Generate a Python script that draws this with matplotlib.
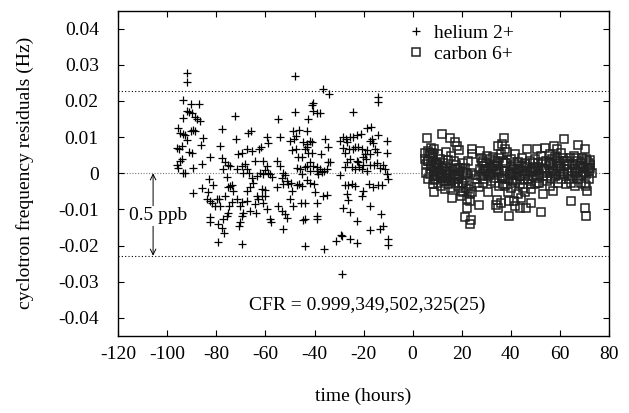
import matplotlib
matplotlib.use('Agg')
import matplotlib.pyplot as plt

plt.rcParams['font.family'] = ['Liberation Serif', 'DejaVu Serif']
plt.rcParams['axes.unicode_minus'] = False

# helium 2+ residuals (time in hours, residual in Hz)
he_time = [
    -91.8, -91.8, -93.7, -90.2, -86.9, -92.1, -91.0, -89.9, -88.6, -88.0,
    -86.7, -93.7, -95.6, -94.8, -93.5, -92.1, -96.2, -95.1, -94.1, -95.9,
    -95.5, -93.5, -92.8, -94.8, -91.0, -90.1, -90.5, -89.4, -88.7, -85.6,
    -86.4, -89.7, -86.0, -89.7, -92.9, -94.1,
    -77.8, -72.4, -72.0, -78.5, -82.6, -86.0, -82.9, -81.2, -83.3, -83.9,
    -82.6, -81.9, -80.6, -79.9, -78.8, -78.5, -77.2, -77.8, -76.5, -75.1,
    -74.4, -75.8, -74.4, -75.1, -73.8, -73.1, -76.5, -73.8, -74.7, -75.1,
    -75.8, -77.2, -77.8, -76.9, -79.2, -82.6, -82.6, -79.2, -69.7, -70.4,
    -70.6, -69.7, -70.4, -69.7, -71.7, -67.6, -69.0, -66.3, -63.8, -64.2,
    -62.9, -61.5, -60.2, -60.8, -59.5, -58.1, -57.9, -54.7, -53.4, -52.0,
    -51.3, -52.7, -71.0, -69.7, -67.6, -65.6, -62.5, -61.9, -59.5, -58.8,
    -67.0, -66.0, -71.7, -69.7, -68.3, -67.4, -69.0, -66.6, -65.6, -64.9,
    -66.3, -67.6, -63.6, -62.2, -61.1, -59.5, -60.2, -58.8, -58.1, -57.5,
    -60.8, -64.2, -61.5, -60.2, -63.6, -54.7, -54.1, -55.1, -54.1, -52.7,
    -52.0, -53.4, -51.3, -50.6, -49.7, -52.7, -55.4, -49.3, -50.0, -48.6,
    -47.3, -46.2, -45.2, -45.6, -43.9, -44.5, -43.9, -43.9, -47.9, -47.9,
    -48.6, -47.5, -46.2, -43.2, -44.8, -48.3, -50.0, -49.3, -47.5, -46.6,
    -45.2, -43.9, -43.2, -41.8, -41.1, -42.5, -41.1, -42.9, -47.3, -45.9,
    -45.2, -43.9, -43.2, -41.8, -41.8, -40.5, -39.1, -38.4, -37.1, -37.7,
    -36.1, -35.0, -34.4, -33.7, -35.7, -34.4, -37.3, -39.1, -40.2, -41.8,
    -42.9, -39.8, -38.8, -36.7, -34.8, -39.1, -39.1, -36.1, -40.5, -41.1,
    -40.7, -39.1, -37.7, -42.5, -36.7, -33.9, -28.9, -31.2, -28.9, -25.5,
    -22.5, -14.0, -14.0, -24.4,
    -28.2, -27.2, -26.9, -25.5, -24.4, -22.8, -21.2, -18.7, -17.1, -14.0,
    -10.3, -10.3, -29.6, -28.2, -27.6, -25.8, -24.4, -23.5, -22.1, -20.8,
    -19.4, -20.1, -18.7, -17.4, -16.7, -16.0, -15.3, -14.6, -17.4, -19.0,
    -20.4, -22.1, -22.8, -25.5, -26.9, -27.6, -24.8, -23.5, -21.7, -20.8,
    -18.7, -17.4, -15.7, -14.6, -13.3, -11.9, -11.2, -10.6, -9.9, -29.6,
    -27.6, -26.2, -24.8, -23.5, -20.1, -20.8, -17.6, -16.0, -14.0, -12.6,
    -26.9, -26.2, -28.2, -25.5, -17.4, -13.0, -11.9, -13.3, -17.4, -22.5,
    -9.9, -9.9, -29.3,
]
he_resid = [
    0.0278, 0.0253, 0.0204, 0.0193, 0.0193, 0.0172, 0.0169, 0.0167, 0.0156, 0.0149,
    0.0146, 0.0154, 0.0126, 0.0112, 0.0108, 0.0092, 0.0071, 0.0066, 0.0075, 0.0022,
    0.0016, 0.0002, 0.0001, 0.0034, 0.0059, 0.0057, 0.0117, 0.0119, 0.0117, 0.0098,
    0.0077, 0.0016, 0.0025, -0.0055, 0.0105, 0.0039,
    0.0123, 0.0158, 0.0094, 0.0075, 0.0046, -0.0042, -0.0015, -0.0033, -0.0053, -0.0070,
    -0.0076, -0.0083, -0.0090, -0.0070, -0.0072, -0.0090, 0.0011, 0.0041, 0.0030, 0.0022,
    0.0020, -0.0009, -0.0035, -0.0039, -0.0033, -0.0049, -0.0064, -0.0079, -0.0090, -0.0109,
    -0.0118, -0.0127, -0.0150, -0.0164, -0.0141, -0.0136, -0.0122, -0.0191, -0.0196, -0.0136,
    -0.0145, -0.0118, -0.0090, -0.0079, -0.0072, -0.0076, -0.0109, -0.0104, -0.0110, -0.0085,
    -0.0072, -0.0063, -0.0063, -0.0081, -0.0099, -0.0127, -0.0136, -0.0090, -0.0104, -0.0113,
    -0.0125, -0.0153, 0.0053, 0.0057, 0.0066, 0.0062, 0.0066, 0.0074, 0.0101, 0.0085,
    0.0112, 0.0117, 0.0011, 0.0020, 0.0025, 0.0013, 0.0002, 0.0000, -0.0012, -0.0026,
    -0.0039, -0.0049, -0.0007, 0.0002, -0.0003, 0.0020, 0.0009, 0.0002, -0.0003, -0.0009,
    0.0034, 0.0034, -0.0044, -0.0046, -0.0063, 0.0149, 0.0101, 0.0034, 0.0020, 0.0002,
    -0.0005, -0.0012, -0.0021, -0.0030, -0.0028, -0.0030, -0.0039, -0.0049, -0.0070, -0.0090,
    -0.0033, -0.0030, -0.0035, -0.0083, -0.0083, -0.0129, -0.0127, -0.0200, 0.0269, 0.0169,
    0.0117, 0.0103, 0.0121, 0.0117, 0.0086, 0.0094, 0.0089, 0.0064, 0.0068, 0.0046,
    0.0046, 0.0066, 0.0074, 0.0089, 0.0086, 0.0055, 0.0057, 0.0080, 0.0016, 0.0011,
    -0.0003, 0.0018, 0.0020, 0.0007, 0.0030, 0.0020, 0.0018, -0.0003, 0.0004, 0.0011,
    0.0007, 0.0013, 0.0030, 0.0030, 0.0094, 0.0074, 0.0053, 0.0007, -0.0030, -0.0026,
    -0.0018, -0.0053, -0.0081, -0.0063, -0.0061, -0.0118, -0.0127, -0.0208, 0.0195, 0.0190,
    0.0172, 0.0167, 0.0166, 0.0149, 0.0232, 0.0218, -0.0279, -0.0187, -0.0173, -0.0182,
    -0.0193, 0.0212, 0.0197, 0.0170,
    0.0101, 0.0096, 0.0086, 0.0101, 0.0101, 0.0105, 0.0108, 0.0126, 0.0129, 0.0105,
    0.0089, 0.0055, 0.0089, 0.0071, 0.0057, 0.0068, 0.0066, 0.0074, 0.0074, 0.0066,
    0.0053, 0.0046, 0.0064, 0.0089, 0.0094, 0.0085, 0.0068, 0.0059, 0.0053, 0.0039,
    0.0022, 0.0030, 0.0034, 0.0039, 0.0030, 0.0018, 0.0018, 0.0011, 0.0018, 0.0011,
    0.0007, 0.0022, 0.0022, 0.0028, 0.0016, 0.0022, 0.0011, -0.0003, -0.0017, -0.0005,
    -0.0033, -0.0033, -0.0030, -0.0035, -0.0049, -0.0063, -0.0030, -0.0039, -0.0033, -0.0033,
    -0.0058, -0.0074, -0.0095, -0.0107, -0.0090, -0.0113, -0.0145, -0.0153, -0.0156, -0.0131,
    -0.0182, -0.0199, -0.0171,
]

# carbon 6+ residuals (time in hours, residual in Hz)
c_time = [
    5.8, 12.1, 15.1, 17.1, 18.2, 19.1, 37.2, 61.9, 67.6, 70.1,
    24.3, 24.2, 27.3, 34.8, 36.4, 37.5, 38.6, 46.7, 50.8, 53.8,
    57.6, 58.9, 60.6, 58.1, 55.8, 70.8, 71.7, 6.2, 6.9, 7.9,
    8.3, 6.2, 9.6, 13.7, 15.7, 14.4, 16.8, 17.8, 20.5, 22.5,
    21.2, 28.7, 27.7, 30.0, 31.4, 32.7, 33.7, 35.4, 36.8, 38.2,
    41.8, 42.9, 44.3, 45.9, 47.7, 49.0, 51.1, 52.7, 54.5, 56.2,
    59.9, 61.9, 64.0, 65.3, 67.1, 68.5, 69.4, 71.4, 72.5, 73.1,
    7.6, 9.6, 11.0, 12.3, 13.7, 15.1, 16.4, 17.8, 19.1, 20.5,
    21.9, 23.9, 25.9, 27.3, 28.7, 30.0, 31.4, 32.7, 34.1, 35.4,
    36.8, 38.2, 39.5, 40.9, 42.2, 43.6, 44.9, 46.3, 47.7, 49.0,
    50.4, 51.7, 53.1, 54.5, 55.8, 57.2, 58.5, 59.9, 61.9, 63.3,
    64.9, 67.1, 68.7, 70.8, 72.1,
    6.2, 8.7, 10.3, 11.7, 13.0, 14.4, 15.7, 17.1, 18.5, 19.6,
    22.5, 23.2, 25.3, 27.0, 28.7, 30.7, 32.1, 33.7, 35.4, 36.8,
    38.8, 40.2, 41.6, 43.6, 44.9, 45.9, 48.4, 49.7, 51.7, 53.1,
    55.8, 57.2, 59.2, 60.6, 62.6, 64.7, 66.0, 68.5, 70.1, 71.2,
    8.7, 16.0, 22.3, 23.2, 34.5, 35.9, 39.1, 41.3, 42.9, 44.0,
    48.4, 52.2, 43.6, 46.3, 41.6, 34.8, 34.1, 22.3, 27.0, 39.1,
    21.5, 23.9, 23.2, 64.4, 70.4, 70.8,
    8.9, 11.7, 18.5, 29.3, 37.5, 47.0, 56.5, 67.4, 5.6, 5.6,
    10.3, 33.4, 40.2, 49.7, 59.2, 66.0,
    7.1, 8.4, 6.4, 7.7, 9.8, 11.8, 13.8, 11.1, 9.1, 13.2,
    15.2, 17.2, 19.3, 18.6, 20.6, 22.0, 28.1, 29.5, 30.8, 32.9,
    34.2, 36.3, 37.6, 39.7, 41.0, 42.4, 44.4, 45.8, 47.1, 49.2,
    50.5, 52.6, 54.6, 56.0, 57.3, 58.7, 60.0, 61.4, 62.8, 64.8,
    66.8, 68.2, 69.5, 70.9, 72.3,
    5.0, 5.2, 7.3, 8.9, 10.3, 11.0, 12.3, 13.0, 7.6, 8.9,
    6.9, 8.3, 10.0, 11.4, 12.8, 14.1, 15.5, 16.4, 17.4, 18.7,
    20.1, 21.2, 19.6, 20.5, 21.9, 24.2, 26.3, 28.0, 29.1, 30.4,
    31.8, 33.1, 34.5, 35.9, 37.2, 37.8, 38.8, 39.9, 40.5, 41.6,
    42.6, 43.2, 44.5, 45.4, 46.7, 48.1, 48.6, 50.0, 50.8, 51.3,
    52.4, 53.5, 54.9, 55.4, 56.8, 57.9, 58.9, 60.3, 61.3, 61.7,
    63.0, 63.6, 65.7, 66.3, 67.6, 69.0, 69.8, 71.7, 72.5, 70.8,
]
c_resid = [
    0.0097, 0.0108, 0.0098, 0.0086, 0.0075, 0.0064, 0.0097, 0.0094, 0.0077, 0.0066,
    0.0068, 0.0052, 0.0062, 0.0075, 0.0080, 0.0068, 0.0059, 0.0068, 0.0066, 0.0071,
    0.0075, 0.0066, 0.0057, 0.0048, 0.0052, 0.0039, 0.0029, 0.0062, 0.0052, 0.0055,
    0.0043, 0.0034, 0.0029, 0.0059, 0.0048, 0.0037, 0.0034, 0.0022, 0.0029, 0.0034,
    0.0016, 0.0034, 0.0041, 0.0029, 0.0039, 0.0046, 0.0034, 0.0041, 0.0034, 0.0029,
    0.0052, 0.0031, 0.0020, 0.0029, 0.0034, 0.0028, 0.0029, 0.0031, 0.0034, 0.0028,
    0.0029, 0.0034, 0.0041, 0.0025, 0.0034, 0.0029, 0.0016, 0.0011, 0.0022, 0.0002,
    0.0011, 0.0006, 0.0002, 0.0013, 0.0004, -0.0006, 0.0006, -0.0003, -0.0007, 0.0004,
    0.0002, 0.0000, -0.0006, 0.0011, 0.0002, 0.0006, -0.0003, 0.0004, 0.0013, 0.0000,
    -0.0007, 0.0006, 0.0000, 0.0011, 0.0002, -0.0007, 0.0006, -0.0003, 0.0004, -0.0007,
    0.0006, 0.0000, -0.0007, 0.0006, 0.0002, 0.0011, -0.0003, 0.0004, 0.0011, 0.0000,
    -0.0007, 0.0004, -0.0007, -0.0003, 0.0006,
    -0.0017, -0.0018, -0.0026, -0.0035, -0.0044, -0.0030, -0.0040, -0.0026, -0.0035, -0.0049,
    -0.0044, -0.0058, -0.0017, -0.0037, -0.0026, -0.0051, -0.0021, -0.0026, -0.0035, -0.0030,
    -0.0053, -0.0040, -0.0026, -0.0030, -0.0040, -0.0053, -0.0044, -0.0030, -0.0026, -0.0058,
    -0.0035, -0.0049, -0.0026, -0.0017, -0.0030, -0.0026, -0.0035, -0.0026, -0.0030, -0.0049,
    -0.0051, -0.0067, -0.0072, -0.0076, -0.0074, -0.0081, -0.0076, -0.0076, -0.0058, -0.0067,
    -0.0081, -0.0108, -0.0097, -0.0097, -0.0090, -0.0095, -0.0088, -0.0097, -0.0088, -0.0118,
    -0.0122, -0.0129, -0.0141, -0.0076, -0.0097, -0.0118,
    -0.0007, -0.0012, -0.0017, -0.0015, -0.0017, -0.0017, -0.0017, -0.0017, 0.0002, 0.0025,
    0.0022, 0.0020, 0.0020, 0.0016, 0.0020, 0.0013,
    0.0057, 0.0052, 0.0034, 0.0020, 0.0025, 0.0016, 0.0006, -0.0007, -0.0017, -0.0021,
    -0.0012, -0.0003, 0.0016, -0.0017, -0.0026, -0.0003, 0.0029, 0.0011, -0.0007, 0.0020,
    0.0006, -0.0012, 0.0029, -0.0003, -0.0021, 0.0011, -0.0007, 0.0025, -0.0017, 0.0006,
    -0.0026, 0.0016, -0.0007, 0.0029, 0.0006, 0.0043, 0.0020, -0.0003, 0.0034, 0.0006,
    0.0043, 0.0020, 0.0002, 0.0034, 0.0016,
    0.0057, 0.0039, 0.0071, 0.0066, 0.0052, 0.0039, 0.0029, 0.0020, 0.0025, 0.0016,
    -0.0003, -0.0030, -0.0007, -0.0003, -0.0021, -0.0012, -0.0021, -0.0007, 0.0011, 0.0016,
    -0.0026, -0.0012, -0.0063, -0.0053, -0.0040, -0.0053, -0.0026, -0.0007, 0.0020, 0.0048,
    0.0016, -0.0012, 0.0029, 0.0052, 0.0006, -0.0035, -0.0015, 0.0039, -0.0006, 0.0025,
    -0.0017, 0.0011, 0.0041, -0.0017, 0.0018, -0.0030, 0.0011, 0.0039, -0.0012, 0.0018,
    0.0048, 0.0011, -0.0021, 0.0022, 0.0039, -0.0007, 0.0034, 0.0016, 0.0043, -0.0003,
    0.0025, -0.0017, 0.0048, 0.0002, 0.0016, 0.0043, 0.0004, -0.0017, 0.0037, -0.0035,
]

ppb_half = 0.0228
x_ticks = [-120, -100, -80, -60, -40, -20, 0, 20, 40, 60, 80]
y_ticks = [0.04, 0.03, 0.02, 0.01, 0, -0.01, -0.02, -0.03, -0.04]
y_labels = ['0.04', '0.03', '0.02', '0.01', '0', '-0.01', '-0.02', '-0.03', '-0.04']

fig = plt.figure(figsize=(6.29, 4.13), dpi=100)
ax = fig.add_axes([0.188, 0.1864, 0.780, 0.788])

ax.axhline(0, color='#777777', lw=0.8, ls=(0, (1, 1.5)), zorder=1)
ax.axhline(ppb_half, color='black', lw=0.8, ls=(0, (1, 2)), zorder=1)
ax.axhline(-ppb_half, color='black', lw=0.8, ls=(0, (1, 2)), zorder=1)

ax.plot(he_time, he_resid, ls='none', marker='+', ms=6, mew=0.9,
        color='black', label='helium 2+', zorder=3)
ax.plot(c_time, c_resid, ls='none', marker='s', ms=5.5, mew=1.1,
        mfc='none', mec='#222222', label='carbon 6+', zorder=2)

ax.annotate('', xy=(-105.8, -ppb_half), xytext=(-105.8, 0),
            arrowprops=dict(arrowstyle='<->', lw=0.7, color='black',
                            shrinkA=0, shrinkB=0))
ax.text(-103.8, -0.0118, '0.5 ppb', fontsize=14, ha='center', va='center',
        bbox=dict(facecolor='white', edgecolor='none', pad=1))
ax.text(-18.4, -0.0364, 'CFR = 0.999,349,502,325(25)', fontsize=14,
        ha='center', va='center')

ax.set_xlim(-120, 80)
ax.set_ylim(-0.045, 0.045)
ax.set_xticks(x_ticks)
ax.set_xticklabels([str(t) for t in x_ticks])
ax.set_yticks(y_ticks)
ax.set_yticklabels(y_labels)
ax.tick_params(direction='in', length=4.5, width=0.8, top=True, right=True,
               labelsize=14)
ax.tick_params(axis='y', pad=14)
ax.tick_params(axis='x', pad=7)
for s in ax.spines.values():
    s.set_linewidth(1.0)

ax.set_xlabel('time (hours)', fontsize=14)
ax.set_ylabel('cyclotron frequency residuals (Hz)', fontsize=14)
ax.xaxis.set_label_coords(0.5, -0.16)
ax.yaxis.set_label_coords(-0.172, 0.5)

ax.legend(loc='upper left', bbox_to_anchor=(0.555, 1.0), frameon=False,
          fontsize=14, handlelength=1.2, handletextpad=0.35, labelspacing=0.2,
          borderaxespad=0.3)

fig.savefig('out.png', dpi=100)
